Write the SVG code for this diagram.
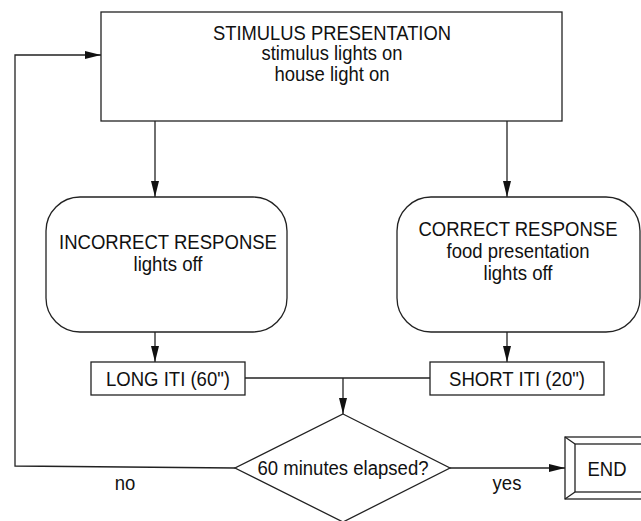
<svg xmlns="http://www.w3.org/2000/svg" width="641" height="521" viewBox="0 0 641 521">
<style>
.box{fill:#fff;stroke:#222;stroke-width:1.3}
.ln{fill:none;stroke:#222;stroke-width:1.3}
text{font-family:"Liberation Sans",Arial,sans-serif;font-size:19.5px;fill:#111;text-anchor:middle}
</style>
<defs>
<marker id="ah" viewBox="0 0 16 8" refX="16" refY="4" markerWidth="16" markerHeight="8" markerUnits="userSpaceOnUse" orient="auto">
<path d="M0,0 L16,4 L0,8 Z" fill="#111"/>
</marker>
</defs>
<rect width="641" height="521" fill="#fff"/>
<g id="connectors">
<line class="ln" x1="155" y1="121" x2="155" y2="197" marker-end="url(#ah)"/>
<line class="ln" x1="507" y1="121" x2="507" y2="197" marker-end="url(#ah)"/>
<line class="ln" x1="155" y1="332" x2="155" y2="362" marker-end="url(#ah)"/>
<line class="ln" x1="507" y1="332" x2="507" y2="362" marker-end="url(#ah)"/>
<line class="ln" x1="245" y1="378" x2="430" y2="378"/>
<line class="ln" x1="343" y1="378" x2="343" y2="414" marker-end="url(#ah)"/>
<polyline class="ln" points="235,468 15,466 15,55 101,55" marker-end="url(#ah)"/>
<line class="ln" x1="450" y1="468" x2="565" y2="468" marker-end="url(#ah)"/>
<text x="125" y="490" textLength="20.6" lengthAdjust="spacingAndGlyphs">no</text>
<text x="507" y="490" textLength="28.8" lengthAdjust="spacingAndGlyphs">yes</text>
</g>
<g id="stimulus">
<rect class="box" x="101" y="12" width="461" height="109"/>
<text x="332" y="40" textLength="238" lengthAdjust="spacingAndGlyphs">STIMULUS PRESENTATION</text>
<text x="332" y="60" textLength="141" lengthAdjust="spacingAndGlyphs">stimulus lights on</text>
<text x="332" y="81" textLength="115" lengthAdjust="spacingAndGlyphs">house light on</text>
</g>
<g id="incorrect">
<rect class="box" x="46" y="197" width="241" height="135" rx="34" ry="34"/>
<text x="168" y="249" textLength="218" lengthAdjust="spacingAndGlyphs">INCORRECT RESPONSE</text>
<text x="168" y="271" textLength="69" lengthAdjust="spacingAndGlyphs">lights off</text>
</g>
<g id="correct">
<rect class="box" x="397" y="197" width="243" height="135" rx="34" ry="34"/>
<text x="518" y="236" textLength="199" lengthAdjust="spacingAndGlyphs">CORRECT RESPONSE</text>
<text x="518" y="258" textLength="143" lengthAdjust="spacingAndGlyphs">food presentation</text>
<text x="518" y="280" textLength="69" lengthAdjust="spacingAndGlyphs">lights off</text>
</g>
<g id="long-iti">
<rect class="box" x="91" y="362" width="154" height="33"/>
<text x="168" y="386" textLength="124" lengthAdjust="spacingAndGlyphs">LONG ITI (60")</text>
</g>
<g id="short-iti">
<rect class="box" x="430" y="362" width="174" height="33"/>
<text x="517" y="386" textLength="136" lengthAdjust="spacingAndGlyphs">SHORT ITI (20")</text>
</g>
<g id="decision">
<polygon class="box" points="343,414 450,468 343,522 235,468"/>
<text x="343" y="475" textLength="171" lengthAdjust="spacingAndGlyphs">60 minutes elapsed?</text>
</g>
<g id="end">
<rect class="box" x="565" y="437" width="90" height="62"/>
<rect class="box" x="575" y="444" width="70" height="48"/>
<line class="ln" x1="565" y1="437" x2="575" y2="444"/>
<line class="ln" x1="565" y1="499" x2="575" y2="492"/>
<text x="607" y="476" textLength="39" lengthAdjust="spacingAndGlyphs">END</text>
</g>
</svg>
